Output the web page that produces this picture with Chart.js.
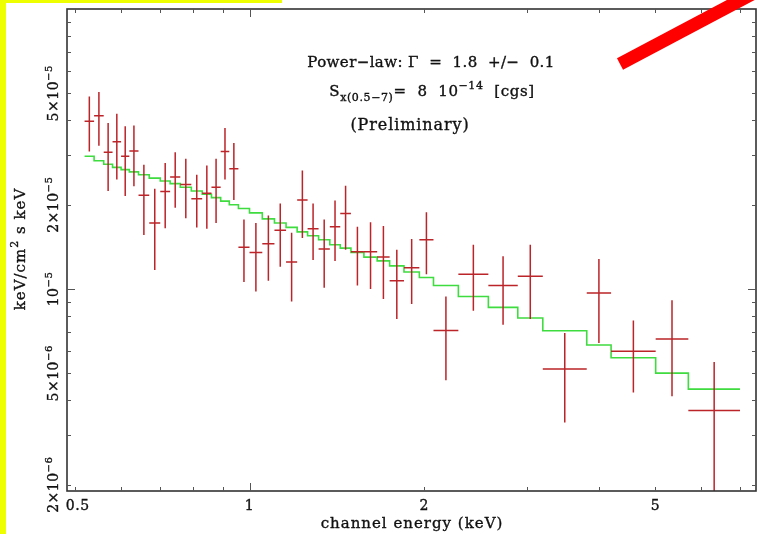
<!DOCTYPE html>
<html>
<head>
<meta charset="utf-8">
<script src="https://cdn.jsdelivr.net/npm/chart.js@4.4.0/dist/chart.umd.min.js"></script>
<style>
  html, body { margin: 0; padding: 0; background: #fff; }
</style>
</head>
<body>
<canvas id="spec" width="762" height="534"></canvas>
<script>
// channel bin edges in keV (41 channels -> 42 edges)
const binEdges = [0.520, 0.540, 0.561, 0.581, 0.601, 0.621, 0.644, 0.672, 0.702, 0.730,
  0.760, 0.794, 0.829, 0.860, 0.892, 0.923, 0.957, 1.000, 1.052, 1.104,
  1.156, 1.208, 1.259, 1.315, 1.375, 1.433, 1.495, 1.574, 1.659, 1.743,
  1.845, 1.961, 2.074, 2.289, 2.578, 2.897, 3.199, 3.808, 4.194, 5.005,
  5.697, 6.992];

// measured flux, units of 1e-5 keV/cm2 s keV
const flux = [3.97, 4.16, 3.08, 3.36, 2.98, 3.11, 2.16, 1.72, 2.23, 2.51,
  2.36, 2.10, 2.20, 2.31, 3.10, 2.69, 1.41, 1.35, 1.45, 1.62,
  1.25, 2.08, 1.64, 1.39, 1.67, 1.86, 1.36, 1.36, 1.30, 1.07,
  1.19, 1.50, 0.711, 1.13, 1.03, 1.11, 0.518, 0.968, 0.599, 0.663,
  0.368];
const fluxHi = [4.87, 5.05, 3.92, 4.23, 3.81, 3.84, 2.78, 2.28, 2.82, 3.08,
  2.92, 2.56, 2.76, 2.92, 3.76, 3.32, 1.77, 1.72, 1.83, 2.02,
  1.59, 2.65, 2.02, 1.77, 2.07, 2.34, 1.67, 1.73, 1.68, 1.38,
  1.51, 1.88, 0.941, 1.44, 1.31, 1.44, 0.696, 1.28, 0.772, 0.911,
  0.549];
const fluxLo = [3.10, 3.25, 2.24, 2.46, 2.15, 2.33, 1.56, 1.17, 1.65, 1.95,
  1.79, 1.66, 1.64, 1.72, 2.46, 2.08, 1.06, 0.98, 1.07, 1.20,
  0.903, 1.52, 1.27, 1.01, 1.26, 1.38, 1.03, 1.00, 0.921, 0.781,
  0.884, 1.13, 0.472, 0.837, 0.746, 0.781, 0.334, 0.641, 0.427, 0.414,
  0.15];

// folded power-law model per channel
const model = [2.98, 2.87, 2.79, 2.72, 2.67, 2.62, 2.56, 2.49, 2.43, 2.38,
  2.31, 2.24, 2.18, 2.12, 2.06, 2.00, 1.94, 1.87, 1.78, 1.72,
  1.66, 1.60, 1.55, 1.50, 1.44, 1.40, 1.35, 1.30, 1.26, 1.21,
  1.15, 1.10, 1.03, 0.941, 0.860, 0.788, 0.710, 0.631, 0.568, 0.501,
  0.439];

const unit = 1e-5;

const xTickVals = [0.5, 1, 2, 5];
const xTickLabels = ['0.5', '1', '2', '5'];
const yTickVals = [2e-6, 5e-6, 1e-5, 2e-5, 5e-5];
const yTickLabels = [['2×10', '−6'], ['5×10', '−6'], ['10', '−5'], ['2×10', '−5'], ['5×10', '−5']];

const FAM = '"DejaVu Serif", serif';
const INK = '#111';

// draws text pieces with sub/superscripts, left or centered at x
function drawRuns(ctx, parts, x, y, size, align, sp) {
  const font = p => ((p.sup || p.sub) ? Math.round(size * 0.72) : size) + 'px ' + FAM;
  ctx.letterSpacing = (sp || 0) + 'px';
  let w = 0;
  parts.forEach(p => { ctx.font = font(p); w += ctx.measureText(p.t).width; });
  let cx = align === 'center' ? x - w / 2 : x;
  ctx.textAlign = 'left';
  ctx.textBaseline = 'alphabetic';
  ctx.strokeStyle = ctx.fillStyle;
  ctx.lineWidth = 0.35;
  parts.forEach(p => {
    ctx.font = font(p);
    const dy = p.sup ? -size * 0.45 : (p.sub ? size * 0.32 : 0);
    ctx.fillText(p.t, cx, y + dy);
    ctx.strokeText(p.t, cx, y + dy);
    cx += ctx.measureText(p.t).width;
  });
  ctx.letterSpacing = '0px';
}

// error crosses
const errBars = {
  id: 'errBars',
  afterDatasetsDraw(chart) {
    const { ctx, chartArea: a, scales: { x, y } } = chart;
    ctx.save();
    ctx.beginPath();
    ctx.rect(a.left, a.top, a.right - a.left, a.bottom - a.top);
    ctx.clip();
    ctx.strokeStyle = '#bb2429';
    ctx.lineWidth = 1.5;
    flux.forEach((f, i) => {
      const lo = binEdges[i], hi = binEdges[i + 1];
      const xc = x.getPixelForValue(Math.sqrt(lo * hi));
      const yc = y.getPixelForValue(f * unit);
      ctx.beginPath();
      ctx.moveTo(x.getPixelForValue(lo), yc);
      ctx.lineTo(x.getPixelForValue(hi), yc);
      ctx.moveTo(xc, y.getPixelForValue(fluxHi[i] * unit));
      ctx.lineTo(xc, y.getPixelForValue(fluxLo[i] * unit));
      ctx.stroke();
    });
    ctx.restore();
  }
};

// frame, inside ticks, labels, notes
const frame = {
  id: 'frame',
  afterDraw(chart) {
    const { ctx, chartArea: a, scales: { x, y } } = chart;
    ctx.save();
    ctx.strokeStyle = '#333';
    ctx.lineWidth = 1.6;
    ctx.strokeRect(a.left, a.top, a.right - a.left, a.bottom - a.top);

    ctx.lineWidth = 1;
    ctx.strokeStyle = '#555';
    [0.1, 1].forEach(dec => {
      for (let k = 1; k <= 9; k++) {
        const v = k * dec;
        if (v < x.min || v > x.max) continue;
        const px = Math.round(x.getPixelForValue(v)) + 0.5;
        const len = k === 1 ? 8 : 4;
        ctx.beginPath();
        ctx.moveTo(px, a.bottom); ctx.lineTo(px, a.bottom - len);
        ctx.moveTo(px, a.top); ctx.lineTo(px, a.top + len);
        ctx.stroke();
      }
    });
    [1e-6, 1e-5].forEach(dec => {
      for (let k = 1; k <= 9; k++) {
        const v = k * dec;
        if (v < y.min || v > y.max) continue;
        const py = Math.round(y.getPixelForValue(v)) + 0.5;
        const len = k === 1 ? 8 : 4;
        ctx.beginPath();
        ctx.moveTo(a.left, py); ctx.lineTo(a.left + len, py);
        ctx.moveTo(a.right, py); ctx.lineTo(a.right - len, py);
        ctx.stroke();
      }
    });

    ctx.fillStyle = INK;
    xTickVals.forEach((v, i) => {
      drawRuns(ctx, [{ t: xTickLabels[i] }], x.getPixelForValue(v) + (i === 0 ? 3 : 0), 510, 14, 'center', 0.5);
    });

    yTickVals.forEach((v, i) => {
      ctx.save();
      ctx.translate(53, y.getPixelForValue(v));
      ctx.rotate(-Math.PI / 2);
      drawRuns(ctx, [{ t: yTickLabels[i][0] }, { t: yTickLabels[i][1], sup: true }], 0, 5, 14, 'center', 0.5);
      ctx.restore();
    });

    drawRuns(ctx, [{ t: 'channel energy (keV)' }], 412, 528, 15, 'center', 1);
    ctx.save();
    ctx.translate(20, 249);
    ctx.rotate(-Math.PI / 2);
    drawRuns(ctx, [{ t: 'keV/cm' }, { t: '2', sup: true }, { t: ' s keV' }], 0, 5, 15, 'center', 1);
    ctx.restore();

    drawRuns(ctx, [{ t: 'Power−law: Γ  =  1.8  +/−  0.1' }], 431, 67, 15, 'center', 0.4);
    drawRuns(ctx, [{ t: 'S' }, { t: 'x(0.5−7)', sub: true }, { t: '=  8  10' }, { t: '−14', sup: true }, { t: '  [cgs]' }], 432, 96, 15, 'center', 0.6);
    drawRuns(ctx, [{ t: '(Preliminary)' }], 410, 130, 16, 'center', 0.9);

    // highlighter marks on the scan
    ctx.fillStyle = '#eeff00';
    ctx.fillRect(0, 0, 6, 534);
    ctx.fillRect(0, 0, 282, 3);
    ctx.strokeStyle = '#ff0000';
    ctx.lineWidth = 13;
    ctx.lineCap = 'butt';
    ctx.beginPath();
    ctx.moveTo(620, 64);
    ctx.lineTo(754, -7);
    ctx.stroke();
    ctx.restore();
  }
};

const modelPts = binEdges.map((e, i) => ({ x: e, y: model[Math.min(i, model.length - 1)] * unit }));

new Chart(document.getElementById('spec'), {
  type: 'line',
  data: {
    datasets: [{
      label: 'model',
      data: modelPts,
      stepped: 'before',
      borderColor: '#3fdc3f',
      borderWidth: 1.6,
      pointRadius: 0,
      fill: false
    }]
  },
  options: {
    responsive: false,
    animation: false,
    events: [],
    layout: { padding: { left: 67, right: 6, top: 9, bottom: 43 } },
    plugins: { legend: { display: false }, tooltip: { enabled: false } },
    scales: {
      x: { type: 'logarithmic', min: 0.485, max: 7.45, display: false },
      y: { type: 'logarithmic', min: 1.9e-6, max: 1e-4, display: false }
    }
  },
  plugins: [errBars, frame]
});
</script>
</body>
</html>
